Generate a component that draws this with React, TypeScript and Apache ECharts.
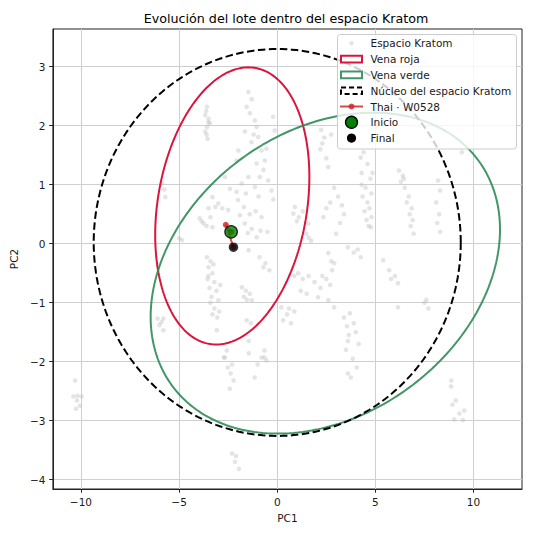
import React, { useEffect, useRef } from "react";
import * as echarts from "echarts";

// ---------- data ----------
const xTicks = [-10, -5, 0, 5, 10];
const yTicks = [-4, -3, -2, -1, 0, 1, 2, 3];
const X_MIN = -11.43;
const X_MAX = 12.47;
const Y_MIN = -4.16;
const Y_MAX = 3.64;

const titleText = "Evolución del lote dentro del espacio Kratom";
const legendLabels = [
  "Espacio Kratom",
  "Vena roja",
  "Vena verde",
  "Núcleo del espacio Kratom",
  "Thai · W0528",
  "Inicio",
  "Final",
];

// Background cloud of Kratom samples (PC1, PC2)
const kratomPoints: [number, number][] = [
  [-3.58, 2.32], [-3.67, 2.18], [-3.5, 2.06], [-3.58, 1.98], [-3.43, 2.04], [-3.67, 1.9], [-3.55, 1.78], [-3.62, 2.25], [-3.5, 2.12], [-3.6, 1.85],
  [-1.47, 2.57], [-1.56, 2.32], [-1.39, 2.21], [-1.14, 2.09], [-1.05, 1.98], [-0.21, 2.15], [-0.13, 1.92], [-1.65, 1.9], [-1.31, 1.72], [-1.98, 1.58],
  [-2.07, 1.41], [-0.97, 1.81], [-0.8, 1.58], [-0.55, 1.61], [-0.63, 1.41], [-1.05, 1.36], [-0.89, 1.13], [-1.47, 1.13], [-1.81, 1.02], [-1.14, 0.96],
  [-0.46, 1.07], [-0.29, 0.9], [-2.66, 1.13], [-2.41, 0.93], [-2.07, 0.88], [-1.3, 2.45], [-1.2, 1.85], [-0.7, 1.25], [-1.6, 0.85], [-0.95, 0.8], [-0.2, 0.75],
  [-5.86, 1.02], [-5.7, 0.79], [-5.75, 0.92],
  [-3.3, 0.79], [-3.0, 0.68], [-2.8, 0.6], [-2.5, 0.57], [-3.15, 0.62], [-2.0, 0.74], [-1.7, 0.62], [-1.4, 0.5], [-1.1, 0.55], [-0.8, 0.45],
  [-1.9, 0.48], [-1.65, 0.34], [-1.3, 0.25], [-1.05, 0.11], [-1.5, 0.18], [-1.46, -0.11], [-0.9, -0.23], [-0.6, -0.33], [-0.4, -0.45], [-0.7, -0.4],
  [-0.85, 0.22], [-0.5, 0.2], [-3.95, 0.43], [-3.75, 0.34], [-3.85, 0.38], [-5.0, 0.09], [-4.85, 0.06], [-3.5, 0.6], [-3.4, 0.45], [-3.6, 0.3], [-3.3, 0.28],
  [0.82, 0.51], [1.1, 0.45], [1.3, 0.55], [1.58, 0.34], [1.0, 0.38], [1.48, 0.17], [1.73, 0.05], [1.6, 0.1], [0.9, 0.62],
  [-3.58, -0.23], [-3.4, -0.3], [-3.5, -0.4], [-3.3, -0.5], [-3.55, -0.6], [-3.2, -0.65], [-3.45, -0.75], [-3.1, -0.8], [-3.35, -0.9], [-3.0, -0.96],
  [-3.4, -1.0], [-3.2, -1.1], [-2.95, -1.15], [-3.3, -1.2], [-3.05, -1.25], [-3.08, -1.47], [-3.5, -0.55], [-3.25, -0.35], [-2.9, -0.7],
  [-1.8, -0.74], [-1.6, -0.8], [-1.4, -0.85], [-1.3, -0.96], [-1.55, -0.95], [-1.7, -0.9], [-1.56, -1.3], [-1.35, -1.35],
  [-2.72, -1.93], [-2.52, -2.1], [-2.37, -2.2], [-2.22, -2.32], [-2.42, -2.46], [-2.57, -1.81], [-2.67, -1.93], [-2.3, -2.05],
  [-1.45, -1.65], [-1.45, -1.86], [-1.15, -2.27], [-0.8, -1.93], [-0.55, -1.98], [-0.65, -1.81], [-0.65, -1.93], [-1.0, -2.05],
  [-2.3, -3.56], [-2.1, -3.6], [-2.15, -3.7], [-1.95, -3.82],
  [0.21, -1.08], [0.5, -1.2], [0.7, -1.35], [0.3, -1.3], [0.87, -1.15], [0.6, -1.1],
  [1.07, -0.5], [1.3, -0.6], [1.6, -0.55], [1.9, -0.65], [2.08, -0.91], [1.5, -0.85], [1.2, -0.8], [2.3, -0.55], [2.5, -0.6], [2.7, -0.7],
  [2.9, -1.08], [2.6, -0.96], [2.8, -0.45], [2.2, -0.75], [0.87, -0.55], [2.9, -0.33], [2.6, -0.16], [2.75, -0.3],
  [3.4, -1.25], [3.55, -1.4], [3.65, -1.55], [3.5, -1.8], [3.6, -1.65],
  [3.7, -1.18], [3.9, -1.35], [4.0, -1.5], [4.15, -1.7], [3.85, -1.95], [4.05, -2.1], [3.6, -2.2], [3.75, -2.27],
  [3.6, -0.06], [3.9, -0.15], [4.25, -0.23], [4.1, -0.1],
  [5.4, -0.28], [5.7, -0.45], [6.0, -0.55], [6.15, -0.67], [5.8, -0.6], [6.15, -1.08],
  [2.24, 1.93], [2.4, 1.8], [2.2, 1.6], [2.5, 1.45], [2.6, 1.3], [2.3, 1.7], [2.75, 1.85],
  [2.9, 0.95], [3.1, 0.8], [3.3, 0.65], [3.4, 0.5], [3.2, 0.35], [3.0, 0.17], [2.5, 0.6], [2.35, 0.45], [2.7, 0.7],
  [4.25, 1.46], [4.4, 1.55], [4.6, 1.35], [4.3, 1.2], [4.75, 1.1], [4.5, 0.95], [4.8, 0.85], [4.35, 0.8], [4.6, 0.7], [4.7, 0.6],
  [4.45, 0.55], [4.8, 0.45], [4.55, 0.4], [4.65, 0.3], [4.77, 0.28], [4.3, 1.0], [4.85, 1.2],
  [6.2, 1.24], [6.4, 1.15], [6.3, 1.05], [6.5, 0.95], [6.7, 0.8], [6.6, 0.7], [6.85, 0.6], [6.75, 0.5], [6.9, 0.4], [6.8, 0.3], [6.95, 0.17], [6.45, 1.1],
  [8.2, 1.07], [8.3, 0.9], [8.1, 0.7], [8.25, 0.5], [8.15, 0.35], [8.3, 0.2],
  [9.4, 1.55],
  [7.5, -1.0], [7.7, -1.1], [7.6, -0.95],
  [8.87, -2.32], [8.86, -2.42], [8.93, -2.73], [9.1, -2.66], [9.28, -2.88], [9.53, -2.83], [9.02, -2.98], [9.46, -2.99],
  [-10.3, -2.32], [-10.38, -2.59], [-10.17, -2.58], [-9.96, -2.59], [-10.2, -2.66], [-10.25, -2.8], [-10.05, -2.75],
  [-6.1, -1.27], [-5.9, -1.33], [-5.8, -1.27], [-5.8, -1.47], [-6.0, -1.38],
];

// Thai · W0528 trajectory (first = Inicio, last = Final)
const thaiTrajectory: [number, number][] = [
  [-2.35, 0.2],
  [-2.62, 0.32],
  [-2.23, -0.06],
];

// Ellipses: centre, semi-axes, rotation (degrees)
const redVein = { cx: -2.29, cy: 0.64, a: 3.973, b: 2.271, angle: 10.65 };
const greenVein = { cx: 2.45, cy: -0.5, a: 8.933, b: 2.608, angle: 5.21 };
const coreEllipse = { cx: 0.0, cy: 0.02, a: 9.35, b: 3.28, angle: 0 };

// ---------- styles ----------
const RED = "#DC143C";
const GREEN = "#2E8B57";
const THAI_RED = "#d62728";
const FONT = "DejaVu Sans";
const TEXT_COLOR = "#1a1a1a";
const LZ = 100;

function ellipsePoints(e: { cx: number; cy: number; a: number; b: number; angle: number }): [number, number][] {
  const th = (e.angle * Math.PI) / 180;
  const pts: [number, number][] = [];
  const n = 240;
  for (let i = 0; i <= n; i++) {
    const t = (i / n) * Math.PI * 2;
    const x = e.cx + e.a * Math.cos(t) * Math.cos(th) - e.b * Math.sin(t) * Math.sin(th);
    const y = e.cy + e.a * Math.cos(t) * Math.sin(th) + e.b * Math.sin(t) * Math.cos(th);
    pts.push([x, y]);
  }
  return pts;
}

const fmt = (v: number) => (v < 0 ? "\u2212" + Math.abs(v) : String(v));

function buildLegend(): any[] {
  const x0 = 337;
  const y0 = 34;
  const w = 179;
  const h = 114.5;
  const rows = [43.3, 59.1, 74.9, 90.7, 106.5, 122.3, 138.1];
  const hx1 = 341;
  const hx2 = 362;
  const hc = (hx1 + hx2) / 2;
  const tx = 370.5;
  const els: any[] = [
    {
      type: "rect",
      z: LZ,
      shape: { x: x0 + 0.5, y: y0 + 0.5, width: w, height: h, r: 3 },
      style: { fill: "rgba(255,255,255,0.8)", stroke: "#cccccc", lineWidth: 1 },
    },
    { type: "circle", z: LZ + 1, shape: { cx: hc, cy: rows[0], r: 2.3 }, style: { fill: "rgba(187,187,187,0.4)" } },
    { type: "rect", z: LZ + 1, shape: { x: hx1, y: rows[1] - 3.3, width: hx2 - hx1, height: 6.6 }, style: { fill: "none", stroke: RED, lineWidth: 2 } },
    { type: "rect", z: LZ + 1, shape: { x: hx1, y: rows[2] - 3.3, width: hx2 - hx1, height: 6.6 }, style: { fill: "none", stroke: GREEN, lineWidth: 2, opacity: 0.9 } },
    { type: "rect", z: LZ + 1, shape: { x: hx1, y: rows[3] - 3.3, width: hx2 - hx1, height: 6.6 }, style: { fill: "none", stroke: "#000", lineWidth: 2, lineDash: [5, 3] } },
    { type: "line", z: LZ + 1, shape: { x1: hx1 - 1, y1: rows[4], x2: hx2 + 1, y2: rows[4] }, style: { stroke: THAI_RED, lineWidth: 2, opacity: 0.85 } },
    { type: "circle", z: LZ + 2, shape: { cx: hc, cy: rows[4], r: 3 }, style: { fill: THAI_RED, opacity: 0.85 } },
    { type: "circle", z: LZ + 1, shape: { cx: hc, cy: rows[5], r: 6 }, style: { fill: "#008000", stroke: "#000", lineWidth: 1.3 } },
    { type: "circle", z: LZ + 1, shape: { cx: hc, cy: rows[6], r: 4.6 }, style: { fill: "#000" } },
  ];
  legendLabels.forEach((lab, i) => {
    els.push({
      type: "text",
      z: LZ + 1,
      style: {
        text: lab,
        x: tx,
        y: rows[i],
        font: `10.5px "${FONT}"`,
        fill: TEXT_COLOR,
        textAlign: "left",
        textVerticalAlign: "middle",
      },
    });
  });
  return els;
}

export default function App() {
  const ref = useRef<HTMLDivElement>(null);

  useEffect(() => {
    if (!ref.current) return;
    const chart = echarts.init(ref.current, undefined, { renderer: "svg" });

    const axisLabelStyle = { fontFamily: FONT, fontSize: 10.5, color: TEXT_COLOR };

    const option: any = {
      animation: false,
      backgroundColor: "#ffffff",
      grid: {
        left: 50,
        top: 29,
        width: 472,
        height: 460,
        show: true,
        borderColor: "#222",
        borderWidth: 1,
        backgroundColor: "transparent",
        containLabel: false,
      },
      xAxis: {
        type: "value",
        min: X_MIN,
        max: X_MAX,
        axisLine: { show: true, onZero: false, lineStyle: { color: "#222", width: 1 } },
        axisTick: { show: true, inside: false, length: 3.7, lineStyle: { color: "#222", width: 1 }, customValues: xTicks },
        axisLabel: { ...axisLabelStyle, margin: 7.5, formatter: fmt, customValues: xTicks },
        splitLine: { show: true, lineStyle: { color: "#cfcfcf", width: 1 } },
        name: "PC1",
        nameLocation: "middle",
        nameGap: 21,
        nameTextStyle: { fontFamily: FONT, fontSize: 10.5, color: TEXT_COLOR },
      },
      yAxis: {
        type: "value",
        min: Y_MIN,
        max: Y_MAX,
        axisLine: { show: true, onZero: false, lineStyle: { color: "#222", width: 1 } },
        axisTick: { show: true, inside: false, length: 3.7, lineStyle: { color: "#222", width: 1 }, customValues: yTicks },
        axisLabel: { ...axisLabelStyle, margin: 7.5, formatter: fmt, customValues: yTicks },
        splitLine: { show: true, lineStyle: { color: "#cfcfcf", width: 1 } },
        name: "PC2",
        nameLocation: "middle",
        nameGap: 27,
        nameTextStyle: { fontFamily: FONT, fontSize: 10.5, color: TEXT_COLOR },
      },
      graphic: [
        {
          type: "text",
          z: LZ,
          style: {
            text: titleText,
            x: 286,
            y: 18.5,
            font: `12.7px "${FONT}"`,
            fill: "#000",
            textAlign: "center",
            textVerticalAlign: "middle",
          },
        },
        ...buildLegend(),
      ],
      series: [
        {
          name: "Espacio Kratom",
          type: "scatter",
          data: kratomPoints,
          symbolSize: 4.6,
          itemStyle: { color: "#bbbbbb", opacity: 0.4 },
          silent: true,
          z: 1,
        },
        {
          name: "Vena roja",
          type: "line",
          data: ellipsePoints(redVein),
          showSymbol: false,
          symbol: "none",
          lineStyle: { color: RED, width: 2 },
          silent: true,
          z: 3,
        },
        {
          name: "Vena verde",
          type: "line",
          data: ellipsePoints(greenVein),
          showSymbol: false,
          symbol: "none",
          lineStyle: { color: GREEN, width: 2, opacity: 0.9 },
          silent: true,
          z: 3,
        },
        {
          name: "Núcleo del espacio Kratom",
          type: "line",
          data: ellipsePoints(coreEllipse),
          showSymbol: false,
          symbol: "none",
          lineStyle: { color: "#000", width: 2, type: [7.5, 3.5] },
          silent: true,
          z: 3,
        },
        {
          name: "Thai · W0528",
          type: "line",
          data: thaiTrajectory,
          symbol: "circle",
          symbolSize: 6,
          showSymbol: true,
          lineStyle: { color: THAI_RED, width: 2, opacity: 0.85 },
          itemStyle: { color: THAI_RED, opacity: 0.85 },
          silent: true,
          z: 4,
        },
        {
          name: "Inicio",
          type: "scatter",
          data: [thaiTrajectory[0]],
          symbolSize: 12.5,
          itemStyle: { color: "#008000", borderColor: "#000", borderWidth: 1.3 },
          silent: true,
          z: 5,
        },
        {
          name: "Final",
          type: "scatter",
          data: [thaiTrajectory[thaiTrajectory.length - 1]],
          symbolSize: 9.5,
          itemStyle: { color: "#000" },
          silent: true,
          z: 6,
        },
      ],
    };

    chart.setOption(option);
    return () => {
      chart.dispose();
    };
  }, []);

  return (
    <div
      ref={ref}
      style={{ position: "absolute", left: 0, top: 0, width: 533, height: 533, background: "#fff" }}
    />
  );
}
